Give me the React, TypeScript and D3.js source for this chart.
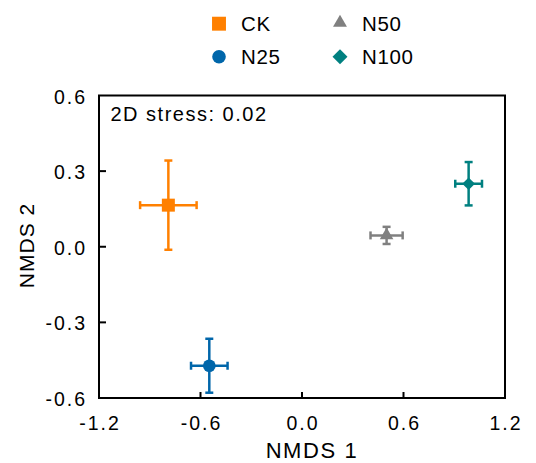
import React from "react";
import * as d3 from "d3";

const groups = ["CK", "N25", "N50", "N100"];
const nmds1 = [-0.79, -0.548, 0.5, 0.985];
const nmds1Err = [0.167, 0.108, 0.095, 0.079];
const nmds2 = [0.165, -0.472, 0.045, 0.25];
const nmds2Err = [0.177, 0.107, 0.034, 0.086];
const groupColors = ["#FF8000", "#0066AA", "#808080", "#008080"];
const groupShapes = ["square", "circle", "triangle", "diamond"];
const xTicks = [-1.2, -0.6, 0, 0.6, 1.2];
const yTicks = [-0.6, -0.3, 0, 0.3, 0.6];
const legendOrder = ["CK", "N50", "N25", "N100"];
const stressLabel = "2D stress: 0.02";
const xTitle = "NMDS 1";
const yTitle = "NMDS 2";

const W = 536;
const H = 463;
const frame = { left: 99, right: 505, top: 95.5, bottom: 398 };
const FONT = "'Liberation Sans', Arial, sans-serif";

function symbolPath(shape: string, scale: number) {
  if (shape === "square") return { d: d3.symbol(d3.symbolSquare, 169 * scale)()!, rot: 0 };
  if (shape === "circle") return { d: d3.symbol(d3.symbolCircle, 127 * scale)()!, rot: 0 };
  if (shape === "triangle") return { d: d3.symbol(d3.symbolTriangle, 80 * scale)()!, rot: 0 };
  return { d: d3.symbol(d3.symbolSquare, 80 * scale)()!, rot: 45 };
}

export default function App() {
  const x = d3.scaleLinear().domain([-1.2, 1.2]).range([frame.left, frame.right]);
  const y = d3.scaleLinear().domain([-0.6, 0.6]).range([frame.bottom, frame.top]);
  const cap = 4;

  return (
    <svg width={W} height={H} style={{ position: "absolute", left: 0, top: 0, background: "#fff" }} fontFamily={FONT}>
      {/* legend */}
      {legendOrder.map((name, k) => {
        const i = groups.indexOf(name);
        const col = k % 2;
        const row = Math.floor(k / 2);
        const cx = 219 + col * 121;
        const cy = 23.7 + row * 33;
        const s = symbolPath(groupShapes[i], groupShapes[i] === "diamond" ? 1.4 : groupShapes[i] === "triangle" ? 1.05 : 1.15);
        return (
          <g key={name}>
            <path d={s.d} transform={`translate(${cx},${cy + (groupShapes[i] === "triangle" ? -1 : 0)}) rotate(${s.rot})`} fill={groupColors[i]} />
            <text x={cx + 22} y={cy + 7.2} fontSize={20.5} letterSpacing={0.6} fill="#000">{name}</text>
          </g>
        );
      })}

      {/* frame */}
      <rect x={frame.left} y={frame.top} width={frame.right - frame.left} height={frame.bottom - frame.top} fill="none" stroke="#000" strokeWidth={2} />

      {/* ticks */}
      {xTicks.slice(1, -1).map((t) => (
        <line key={"xt" + t} x1={x(t)} x2={x(t)} y1={frame.bottom} y2={frame.bottom - 6} stroke="#000" strokeWidth={2} />
      ))}
      {yTicks.slice(1, -1).map((t) => (
        <line key={"yt" + t} x1={frame.left} x2={frame.left + 7} y1={y(t)} y2={y(t)} stroke="#000" strokeWidth={2} />
      ))}

      {/* tick labels */}
      {xTicks.map((t) => (
        <text key={"xl" + t} x={x(t) + 1} y={430} textAnchor="middle" fontSize={19.5} letterSpacing={2} fill="#000">
          {d3.format(".1f")(t).replace("−", "-")}
        </text>
      ))}
      {yTicks.map((t) => (
        <text key={"yl" + t} x={87} y={y(t) + 8} textAnchor="end" fontSize={19.5} letterSpacing={2} fill="#000">
          {d3.format(".1f")(t).replace("−", "-")}
        </text>
      ))}

      {/* titles */}
      <text x={312} y={458} textAnchor="middle" fontSize={22} letterSpacing={1.6} fill="#000">{xTitle}</text>
      <text transform={`translate(33.5,245.5) rotate(-90)`} textAnchor="middle" fontSize={21} letterSpacing={1} fill="#000">{yTitle}</text>
      <text x={110.5} y={121} fontSize={20} letterSpacing={1.5} fill="#000">{stressLabel}</text>

      {/* points with error bars */}
      {groups.map((g, i) => {
        const cx = x(nmds1[i]);
        const cy = y(nmds2[i]);
        const x0 = x(nmds1[i] - nmds1Err[i]);
        const x1 = x(nmds1[i] + nmds1Err[i]);
        const y0 = y(nmds2[i] - nmds2Err[i]);
        const y1 = y(nmds2[i] + nmds2Err[i]);
        const s = symbolPath(groupShapes[i], 1);
        return (
          <g key={g} stroke={groupColors[i]} strokeWidth={2.5}>
            <line x1={x0} x2={x1} y1={cy} y2={cy} />
            <line x1={cx} x2={cx} y1={y0} y2={y1} />
            <line x1={x0} x2={x0} y1={cy - cap} y2={cy + cap} />
            <line x1={x1} x2={x1} y1={cy - cap} y2={cy + cap} />
            <line x1={cx - cap} x2={cx + cap} y1={y0} y2={y0} />
            <line x1={cx - cap} x2={cx + cap} y1={y1} y2={y1} />
            <path d={s.d} transform={`translate(${cx},${cy}) rotate(${s.rot})`} fill={groupColors[i]} stroke="none" />
          </g>
        );
      })}
    </svg>
  );
}
